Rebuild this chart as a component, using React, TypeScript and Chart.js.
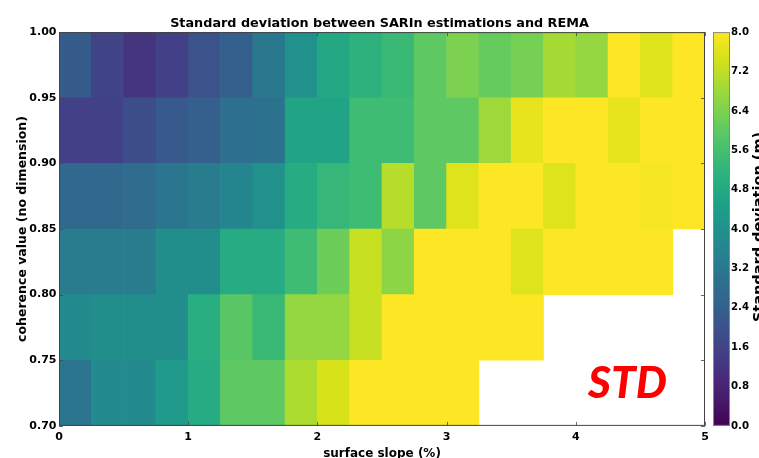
import React, { useEffect, useRef } from "react";
import { Chart, registerables } from "chart.js";

Chart.register(...registerables);

// ---------- data ----------
const slopeBinStart = [0, 0.25, 0.5, 0.75, 1, 1.25, 1.5, 1.75, 2, 2.25, 2.5, 2.75, 3, 3.25, 3.5, 3.75, 4, 4.25, 4.5, 4.75];
const slopeBinWidth = 0.25;
const coherenceBinStart = [0.7, 0.75, 0.8, 0.85, 0.9, 0.95];
const coherenceBinHeight = 0.05;

// standard deviation (m) per slope bin, one array per coherence bin (null = no data)
const std070 = [3.1, 3.8, 3.8, 4.3, 4.9, 6.0, 6.0, 7.0, 7.5, 8, 8, 8, 8, null, null, null, null, null, null, null];
const std075 = [3.8, 3.9, 3.9, 3.9, 5.0, 5.9, 5.4, 6.7, 6.7, 7.3, 8, 8, 8, 8, 8, null, null, null, null, null];
const std080 = [3.3, 3.3, 3.3, 3.9, 3.9, 4.9, 4.9, 5.5, 6.2, 7.3, 6.6, 8, 8, 8, 7.6, 8, 8, 8, 8, null];
const std085 = [2.7, 2.7, 2.8, 3.1, 3.3, 3.6, 4.0, 4.9, 5.3, 5.5, 7.1, 6.0, 7.6, 8, 8, 7.6, 8, 8, 7.9, 8];
const std090 = [1.5, 1.5, 1.9, 2.2, 2.4, 2.9, 3.0, 4.6, 4.6, 5.5, 5.5, 6.0, 6.0, 6.8, 7.7, 8, 8, 7.7, 8, 8];
const std095 = [2.3, 1.6, 1.2, 1.5, 2.0, 2.4, 3.2, 4.0, 4.8, 5.1, 5.4, 6.0, 6.4, 6.1, 6.3, 6.9, 6.7, 8, 7.6, 8];
const stdRows = [std070, std075, std080, std085, std090, std095];

const xTickValues = [0, 1, 2, 3, 4, 5];
const yTickValues = [0.7, 0.75, 0.8, 0.85, 0.9, 0.95, 1.0];
const cbTickValues = [0, 0.8, 1.6, 2.4, 3.2, 4.0, 4.8, 5.6, 6.4, 7.2, 8.0];
const cbMin = 0;
const cbMax = 8;

const titleText = "Standard deviation between SARIn estimations and REMA";
const xTitle = "surface slope (%)";
const yTitle = "coherence value (no dimension)";
const cbTitle = "Standard deviation (m)";
const annotationText = "STD";

// ---------- viridis colormap ----------
const VIRIDIS = [
  "#440154", "#48186a", "#472d7b", "#424086", "#3b528b", "#33638d", "#2c728e", "#26828e",
  "#21918c", "#1fa088", "#28ae80", "#3fbc73", "#5ec962", "#84d44b", "#addc30", "#d8e219", "#fde725",
];
function hexToRgb(h: string) {
  return [parseInt(h.slice(1, 3), 16), parseInt(h.slice(3, 5), 16), parseInt(h.slice(5, 7), 16)];
}
function viridis(v: number) {
  let t = (v - cbMin) / (cbMax - cbMin);
  t = Math.max(0, Math.min(1, t));
  const n = VIRIDIS.length - 1;
  const i = Math.min(n - 1, Math.floor(t * n));
  const f = t * n - i;
  const a = hexToRgb(VIRIDIS[i]);
  const b = hexToRgb(VIRIDIS[i + 1]);
  const c = a.map((x, k) => Math.round(x + (b[k] - x) * f));
  return `rgb(${c[0]},${c[1]},${c[2]})`;
}

const FONT = "'DejaVu Sans', sans-serif";

const decorPlugin = {
  id: "decor",
  afterDatasetsDraw(chart: any) {
    const { ctx, chartArea } = chart;
    const xs = chart.scales.x;
    const ys = chart.scales.y;
    const cb = chart.scales.cb;
    ctx.save();
    // frame
    ctx.strokeStyle = "#444";
    ctx.lineWidth = 1;
    ctx.strokeRect(chartArea.left + 0.5, chartArea.top + 0.5, chartArea.right - chartArea.left - 1, chartArea.bottom - chartArea.top - 1);
    // inward ticks
    ctx.strokeStyle = "rgba(70,70,70,0.8)";
    ctx.beginPath();
    xTickValues.forEach((v) => {
      const p = Math.round(xs.getPixelForValue(v)) + 0.5;
      ctx.moveTo(p, chartArea.bottom);
      ctx.lineTo(p, chartArea.bottom - 4);
      ctx.moveTo(p, chartArea.top);
      ctx.lineTo(p, chartArea.top + 4);
    });
    yTickValues.forEach((v) => {
      const p = Math.round(ys.getPixelForValue(v)) + 0.5;
      ctx.moveTo(chartArea.left, p);
      ctx.lineTo(chartArea.left + 4, p);
      ctx.moveTo(chartArea.right, p);
      ctx.lineTo(chartArea.right - 4, p);
    });
    ctx.stroke();

    // colorbar
    const cbLeft = cb.left + 8;
    const cbRight = cb.left + 25;
    const yTop = cb.getPixelForValue(cbMax);
    const yBot = cb.getPixelForValue(cbMin);
    const grad = ctx.createLinearGradient(0, yBot, 0, yTop);
    VIRIDIS.forEach((c, i) => grad.addColorStop(i / (VIRIDIS.length - 1), c));
    ctx.fillStyle = grad;
    ctx.fillRect(cbLeft, yTop, cbRight - cbLeft, yBot - yTop);
    ctx.strokeStyle = "#888";
    ctx.strokeRect(cbLeft + 0.5, yTop + 0.5, cbRight - cbLeft - 1, yBot - yTop - 1);

    // colorbar title (rotated, reading upward)
    ctx.save();
    ctx.translate(cb.left + 58, (yTop + yBot) / 2 - 2);
    ctx.rotate(-Math.PI / 2);
    ctx.fillStyle = "#000";
    ctx.font = `bold 14.5px ${FONT}`;
    ctx.textAlign = "center";
    ctx.textBaseline = "alphabetic";
    ctx.fillText(cbTitle, 0, 0);
    ctx.restore();

    // annotation
    ctx.fillStyle = "#ff0000";
    ctx.font = `italic 900 44px Lato, 'Liberation Sans', sans-serif`;
    ctx.textAlign = "center";
    ctx.textBaseline = "alphabetic";
    ctx.fillText(annotationText, xs.getPixelForValue(4.4), ys.getPixelForValue(0.7) - 28);
    ctx.restore();
  },
};

export default function App() {
  const ref = useRef<HTMLCanvasElement | null>(null);
  useEffect(() => {
    if (!ref.current) return;
    const datasets = stdRows.map((row, r) => {
      const data: any[] = [];
      const colors: string[] = [];
      row.forEach((v, i) => {
        if (v === null) return;
        data.push({ x: slopeBinStart[i] + slopeBinWidth / 2, y: [coherenceBinStart[r], coherenceBinStart[r] + coherenceBinHeight] });
        colors.push(viridis(v));
      });
      return {
        label: `coherence ${coherenceBinStart[r].toFixed(2)}`,
        data,
        backgroundColor: colors,
        borderWidth: 0,
        barPercentage: 1,
        categoryPercentage: 1,
        grouped: false,
      };
    });
    const chart = new Chart(ref.current, {
      type: "bar",
      data: { datasets },
      plugins: [decorPlugin],
      options: {
        responsive: false,
        animation: false,
        devicePixelRatio: 1,
        layout: { padding: 0 },
        plugins: {
          legend: { display: false },
          tooltip: { enabled: false },
          title: {
            display: true,
            text: titleText,
            color: "#000",
            font: { family: FONT, size: 12.8, weight: "bold" },
            padding: { top: 11, bottom: 0.6 },
          },
        },
        scales: {
          x: {
            type: "linear",
            min: 0,
            max: 5,
            offset: false,
            grid: { display: false, offset: false, drawTicks: false },
            border: { display: false },
            afterBuildTicks: (s: any) => { s.ticks = xTickValues.map((v) => ({ value: v })); },
            afterFit: (s: any) => { s.height = 30; },
            ticks: {
              color: "#000",
              padding: 5,
              maxRotation: 0,
              font: { family: FONT, size: 11, weight: "bold" },
              callback: (v: any) => String(v),
            },
            title: {
              display: true,
              text: xTitle,
              color: "#000",
              font: { family: FONT, size: 12, weight: "bold" },
              padding: { top: 0, bottom: -5 },
            },
          },
          y: {
            type: "linear",
            min: 0.7,
            max: 1.0,
            grid: { display: false, drawTicks: false },
            border: { display: false },
            afterBuildTicks: (s: any) => { s.ticks = yTickValues.map((v) => ({ value: v })); },
            afterFit: (s: any) => { s.width = 59; },
            ticks: {
              color: "#000",
              padding: 2.5,
              font: { family: FONT, size: 11, weight: "bold" },
              callback: (v: any) => Number(v).toFixed(2),
            },
            title: {
              display: true,
              text: yTitle,
              color: "#000",
              font: { family: FONT, size: 12.5, weight: "bold" },
              padding: { top: 15, bottom: 0 },
            },
          },
          cb: {
            type: "linear",
            axis: "y",
            position: "right",
            min: cbMin,
            max: cbMax,
            grid: { display: false, drawTicks: false, drawOnChartArea: false },
            border: { display: false },
            afterBuildTicks: (s: any) => { s.ticks = cbTickValues.map((v) => ({ value: v })); },
            afterFit: (s: any) => { s.width = 54; },
            ticks: {
              color: "#000",
              padding: 26,
              font: { family: FONT, size: 10.2, weight: "bold" },
              callback: (v: any) => Number(v).toFixed(1),
            },
          },
        },
      } as any,
    });
    return () => chart.destroy();
  }, []);
  return (
    <div style={{ position: "fixed", left: 0, top: 0, width: 759, height: 458, background: "#fff" }}>
      <canvas ref={ref} width={759} height={458} style={{ display: "block", width: 759, height: 458 }} />
    </div>
  );
}
